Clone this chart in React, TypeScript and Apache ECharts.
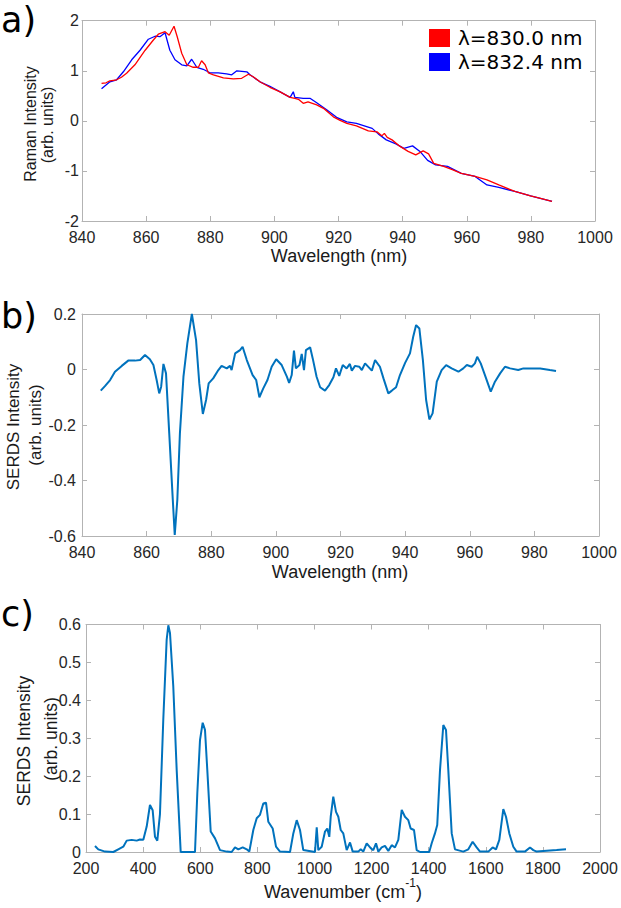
import React, { useEffect, useRef } from 'react';
import * as echarts from 'echarts';

// ---------- Data ----------
const legendNames = ['λ=830.0 nm', 'λ=832.4 nm'];

const raman830: [number, number][] = [
  [846.1, 0.75], [847.5, 0.76], [848.7, 0.8], [850.8, 0.82], [852.3, 0.87], [853.9, 0.95],
  [856.5, 1.12], [859.7, 1.41], [862.2, 1.61], [863.8, 1.73], [865.9, 1.78], [867.2, 1.71],
  [868.7, 1.89], [869.7, 1.68], [871.1, 1.35], [872.7, 1.12], [874.7, 1.07], [876.3, 1.07],
  [877.3, 1.2], [878.4, 1.12], [879.4, 0.96], [881, 0.92], [884.1, 0.86], [887.2, 0.84],
  [889.8, 0.85], [891.9, 0.93], [893.4, 0.88], [895.5, 0.78], [898.6, 0.67], [901.8, 0.58],
  [904.9, 0.47], [906.4, 0.45], [907.5, 0.43], [909, 0.35], [910.5, 0.38], [913.2, 0.32],
  [915.3, 0.25], [918.4, 0.08], [920.5, 0.01], [922.6, -0.05], [925.6, -0.1], [929.3, -0.2],
  [932, -0.22], [933.5, -0.3], [934.3, -0.25], [935.2, -0.33], [936.7, -0.38], [939.2, -0.51],
  [941.7, -0.61], [944.1, -0.68], [946.4, -0.6], [948.1, -0.66], [949.7, -0.85], [952.8, -0.91],
  [955.3, -0.97], [958.3, -1.05], [962.6, -1.11], [966.3, -1.18], [970, -1.28], [975, -1.41],
  [979.9, -1.5], [983, -1.55], [986.6, -1.61],
];

const raman832: [number, number][] = [
  [846.1, 0.64], [848.7, 0.78], [850.8, 0.82], [852.9, 0.98], [855.5, 1.22], [858.1, 1.41],
  [860.7, 1.63], [862.8, 1.69], [864.3, 1.68], [865.9, 1.76], [867.4, 1.41], [869, 1.22],
  [871.1, 1.12], [872.7, 1.1], [874.2, 1.23], [875.8, 1.07], [877.8, 1.03], [879.9, 0.96],
  [882.5, 0.96], [885.1, 0.94], [886.7, 0.92], [888.3, 1.0], [891.4, 0.98], [892.4, 0.92],
  [895.5, 0.78], [898.6, 0.69], [901.8, 0.58], [904.9, 0.47], [905.9, 0.58], [906.4, 0.47],
  [909, 0.45], [911.1, 0.45], [913.2, 0.36], [916.3, 0.22], [919.4, 0.07], [922.6, -0.02],
  [925.6, -0.05], [930.5, -0.15], [932.4, -0.26], [934.9, -0.38], [937.9, -0.46], [940.4, -0.55],
  [943.1, -0.5], [945.4, -0.61], [947.8, -0.79], [950.3, -0.88], [954, -0.91], [958.3, -1.05],
  [962.6, -1.11], [966.3, -1.28], [970, -1.33], [975, -1.41], [979.9, -1.5], [986.6, -1.61],
];

const serdsWavelength: [number, number][] = [
  [845.8, -0.076], [847.1, -0.06], [848.7, -0.038], [850.2, -0.008], [852.3, 0.013], [854.3, 0.032],
  [856.4, 0.032], [858, 0.034], [859.5, 0.052], [861, 0.037], [862.1, 0.016], [863.1, -0.038],
  [863.9, -0.086], [864.5, -0.062], [865.2, 0.02], [866, -0.014], [867, -0.23], [868.1, -0.47],
  [868.7, -0.596], [869.5, -0.47], [870.3, -0.23], [871.4, -0.026], [872.6, 0.094], [874, 0.2],
  [875.3, 0.106], [876.3, -0.05], [877.4, -0.16], [878.4, -0.11], [879.2, -0.05], [880.6, -0.032],
  [882.2, -0.002], [883.2, 0.013], [884.8, 0.004], [885.8, 0.013], [886.3, -0.002], [887.4, 0.058],
  [888.9, 0.07], [889.7, 0.082], [891, 0.034], [892.8, -0.02], [893.9, -0.038], [894.9, -0.1],
  [896.1, -0.068], [897.4, -0.038], [898.7, 0.01], [900.1, 0.037], [901.8, 0.016], [903.4, -0.026],
  [904.1, -0.048], [904.9, -0.02], [905.6, 0.068], [906.2, 0.004], [907.3, 0.016], [908, 0.056],
  [908.7, -0.002], [909.3, 0.07], [910.6, 0.08], [911.4, 0.04], [912.6, -0.026], [913.7, -0.064],
  [915.2, -0.076], [916.5, -0.056], [917.8, -0.028], [918.6, 0.004], [919.6, -0.023], [920.7, 0.016],
  [921.9, 0.004], [922.9, 0.02], [923.5, -0.004], [924.5, 0.013], [925.8, 0.01], [926.6, -0.002],
  [927.6, 0.022], [929.7, -0.004], [930.7, 0.034], [932.2, 0.01], [933.3, -0.032], [934.8, -0.086],
  [935.9, -0.076], [937.2, -0.064], [938.4, -0.02], [940, 0.024], [941.5, 0.058], [942.5, 0.118],
  [943.4, 0.16], [944.4, 0.148], [945.5, 0.034], [946.5, -0.11], [947.5, -0.18], [948.5, -0.158],
  [949.8, -0.044], [951.3, -0.002], [952.7, 0.016], [954.4, 0.004], [956.5, -0.008], [958, 0.004],
  [959.1, 0.016], [960.6, 0.01], [961.6, 0.022], [962.3, 0.046], [963.4, 0.022], [964.7, -0.02],
  [966.5, -0.08], [967.8, -0.044], [969.4, -0.014], [970.9, 0.01], [972.5, 0.004], [975, -0.002],
  [976.6, 0.004], [981.8, 0.004], [984.8, -0.002], [986.7, -0.005],
];

const serdsWavenumber: [number, number][] = [
  [231.5, 0.016], [243, 0.007], [266.5, 0.001], [295.6, 0], [313, 0.007], [330.6, 0.014],
  [342.5, 0.03], [360, 0.032], [377.5, 0.03], [389, 0.033], [400.7, 0.032], [412.5, 0.067],
  [424, 0.124], [433.5, 0.11], [441.6, 0.04], [449.7, 0.03], [459, 0.1], [470.7, 0.35],
  [482.5, 0.56], [488.3, 0.598], [494.2, 0.577], [505.7, 0.436], [517.6, 0.216], [531.6, 0],
  [581.7, 0], [589.8, 0.155], [599.2, 0.295], [608.6, 0.341], [616.7, 0.322], [624.8, 0.216],
  [636.7, 0.054], [651.8, 0.036], [669.3, 0.005], [692.7, 0.001], [710, 0], [721.8, 0.012],
  [733.4, 0.007], [748.8, 0.012], [762.8, 0.007], [771.9, 0.001], [785.9, 0.058], [797.8, 0.089],
  [809.3, 0.098], [820.9, 0.128], [830.4, 0.13], [838.4, 0.08], [853.8, 0.062], [865.4, 0.014],
  [879.4, 0.001], [914.4, 0], [926, 0.049], [937.9, 0.084], [949.4, 0.058], [960.9, 0.005],
  [1002, 0], [1008, 0.065], [1013.5, 0.005], [1025.4, 0.014], [1037, 0.054], [1045, 0.062],
  [1052, 0.04], [1057, 0.093], [1066, 0.146], [1075.5, 0.106], [1083.6, 0.093], [1092, 0.058],
  [1101, 0.049], [1112.9, 0.005], [1124.6, 0.025], [1134, 0.001], [1153.6, 0.001], [1162, 0.007],
  [1171, 0.001], [1183, 0.023], [1197, 0.01], [1206, 0.005], [1215.6, 0.023], [1223.7, 0.001],
  [1235.5, 0.012], [1247, 0.016], [1258.7, 0.003], [1270.6, 0.018], [1282, 0.012], [1293.7, 0.032],
  [1305.6, 0.111], [1317, 0.093], [1328.7, 0.084], [1337, 0.062], [1348.7, 0.058], [1358, 0.005],
  [1369.7, 0], [1402, 0], [1410.6, 0.023], [1422, 0.049], [1430, 0.071], [1439.7, 0.216],
  [1451.3, 0.335], [1460.7, 0.322], [1468.8, 0.216], [1480.7, 0.049], [1492.2, 0.007], [1521.3, 0.001],
  [1538.8, 0.007], [1554, 0.027], [1568, 0.012], [1579.8, 0.001], [1609, 0.001], [1624, 0.012],
  [1635.8, 0.007], [1647.4, 0.032], [1661.4, 0.113], [1670.8, 0.093], [1682.4, 0.049], [1696.4, 0.014],
  [1708, 0.001], [1737, 0.001], [1754.9, 0.012], [1766.5, 0.005], [1778, 0.001], [1813, 0.003],
  [1848, 0.005], [1881, 0.007],
];

// ---------- Style ----------
const AXIS_COLOR = '#b3b3b3';
const LABEL_COLOR = '#262626';
const TEXT_COLOR = '#1a1a1a';
const TICK_FONT = 'Liberation Sans';
const TICK_SIZE = 16;
const BLUE = '#0072BD';

function fmt1(v: number) {
  return String(Math.round(v * 10) / 10);
}
function fmtInt(v: number) {
  return String(Math.round(v));
}

function measure(text: string, font: string) {
  const c = document.createElement('canvas');
  const ctx = c.getContext('2d')!;
  ctx.font = font;
  return ctx.measureText(text).width;
}

function axisPair(grid: number, min: number, max: number, interval: number, labelMargin: number, fmt: (v: number) => string) {
  const common = {
    type: 'value' as const,
    gridIndex: grid,
    min,
    max,
    interval,
    splitLine: { show: false },
    axisLine: { show: true, onZero: false, lineStyle: { color: AXIS_COLOR, width: 1 } },
    axisTick: { show: true, inside: true, length: 5, lineStyle: { color: AXIS_COLOR } },
  };
  return [
    {
      ...common,
      axisLabel: {
        show: true,
        margin: labelMargin,
        color: LABEL_COLOR,
        fontFamily: TICK_FONT,
        fontSize: TICK_SIZE,
        formatter: fmt,
      },
    },
    { ...common, axisLabel: { show: false } },
  ];
}

export default function App() {
  const ref = useRef<HTMLDivElement>(null);

  useEffect(() => {
    if (!ref.current) return;
    const chart = echarts.init(ref.current, undefined, { renderer: 'svg' });

    const grids = [
      { left: 82, top: 20.7, width: 513, height: 200.3 },
      { left: 82, top: 314, width: 517, height: 222 },
      { left: 86, top: 624.5, width: 514, height: 227.5 },
    ];

    const [xa0, xa1] = axisPair(0, 840, 1000, 20, 8, fmtInt);
    const [xb0, xb1] = axisPair(1, 840, 1000, 20, 8, fmtInt);
    const [xc0, xc1] = axisPair(2, 200, 2000, 200, 8, fmtInt);
    const [ya0, ya1] = axisPair(0, -2, 2, 1, 3, fmtInt);
    const [yb0, yb1] = axisPair(1, -0.6, 0.2, 0.2, 6, fmt1);
    const [yc0, yc1] = axisPair(2, 0, 0.6, 0.1, 5, fmt1);

    const xFont = '18px "Liberation Sans"';
    const supFont = '12px "Liberation Sans"';
    const wMain = measure('Wavenumber (cm', xFont);
    const wSup = measure('-1', supFont);
    const wClose = measure(')', xFont);
    const cStart = 343 - (wMain + wSup + wClose) / 2;

    const nameStyle = (size: number) => ({ fontFamily: 'Liberation Sans', fontSize: size, fill: TEXT_COLOR, align: 'center', verticalAlign: 'middle' });
    const rotText = (text: string, x: number, y: number, size: number) => ({
      type: 'text', x, y, rotation: Math.PI / 2, style: { text, ...nameStyle(size) },
    });
    const panelLabel = (text: string, y: number) => ({
      type: 'text', x: 1, y,
      style: { text, fontFamily: 'DejaVu Sans', fontSize: 35, fill: '#000', align: 'left', verticalAlign: 'middle' },
    });

    chart.setOption({
      animation: false,
      backgroundColor: '#ffffff',
      grid: grids,
      xAxis: [
        { ...xa0, position: 'bottom' }, { ...xa1, position: 'top' },
        { ...xb0, position: 'bottom' }, { ...xb1, position: 'top' },
        { ...xc0, position: 'bottom' }, { ...xc1, position: 'top' },
      ],
      yAxis: [
        { ...ya0, position: 'left' }, { ...ya1, position: 'right' },
        { ...yb0, position: 'left' }, { ...yb1, position: 'right' },
        { ...yc0, position: 'left' }, { ...yc1, position: 'right' },
      ],
      legend: {
        data: legendNames,
        orient: 'vertical',
        left: 429,
        top: 28,
        icon: 'rect',
        itemWidth: 21,
        itemHeight: 18,
        itemGap: 4,
        padding: 0,
        textStyle: { fontFamily: 'DejaVu Sans', fontSize: 20, color: '#000', padding: [0, 0, 0, 3] },
      },
      series: [
        {
          name: legendNames[0], type: 'line', xAxisIndex: 0, yAxisIndex: 0, data: raman830,
          showSymbol: false, symbol: 'none', lineStyle: { color: '#ff0000', width: 1.3 }, itemStyle: { color: '#ff0000' },
          z: 3,
        },
        {
          name: legendNames[1], type: 'line', xAxisIndex: 0, yAxisIndex: 0, data: raman832,
          showSymbol: false, symbol: 'none', lineStyle: { color: '#0000ff', width: 1.3 }, itemStyle: { color: '#0000ff' },
          z: 2,
        },
        {
          name: 'SERDS wavelength', type: 'line', xAxisIndex: 2, yAxisIndex: 2, data: serdsWavelength,
          showSymbol: false, symbol: 'none', lineStyle: { color: BLUE, width: 2 }, itemStyle: { color: BLUE },
        },
        {
          name: 'SERDS wavenumber', type: 'line', xAxisIndex: 4, yAxisIndex: 4, data: serdsWavenumber,
          showSymbol: false, symbol: 'none', lineStyle: { color: BLUE, width: 2 }, itemStyle: { color: BLUE },
        },
      ],
      graphic: [
        panelLabel('a)', 20),
        panelLabel('b)', 316),
        panelLabel('c)', 614),
        rotText('Raman Intensity', 30, 124, 16),
        rotText('(arb. units)', 47, 125, 16),
        rotText('SERDS Intensity', 13, 427, 17),
        rotText('(arb. units)', 35, 425, 17),
        rotText('SERDS Intensity', 24, 741, 17.5),
        rotText('(arb. units)', 51, 739, 17.5),
        { type: 'text', x: 339, y: 256, style: { text: 'Wavelength (nm)', ...nameStyle(18) } },
        { type: 'text', x: 340, y: 572, style: { text: 'Wavelength (nm)', ...nameStyle(18) } },
        { type: 'text', x: cStart, y: 892, style: { text: 'Wavenumber (cm', fontFamily: 'Liberation Sans', fontSize: 18, fill: TEXT_COLOR, align: 'left', verticalAlign: 'middle' } },
        { type: 'text', x: cStart + wMain, y: 883, style: { text: '-1', fontFamily: 'Liberation Sans', fontSize: 12, fill: TEXT_COLOR, align: 'left', verticalAlign: 'middle' } },
        { type: 'text', x: cStart + wMain + wSup, y: 892, style: { text: ')', fontFamily: 'Liberation Sans', fontSize: 18, fill: TEXT_COLOR, align: 'left', verticalAlign: 'middle' } },
      ],
    });

    return () => chart.dispose();
  }, []);

  return <div ref={ref} style={{ position: 'absolute', left: 0, top: 0, width: 621, height: 908 }} />;
}
